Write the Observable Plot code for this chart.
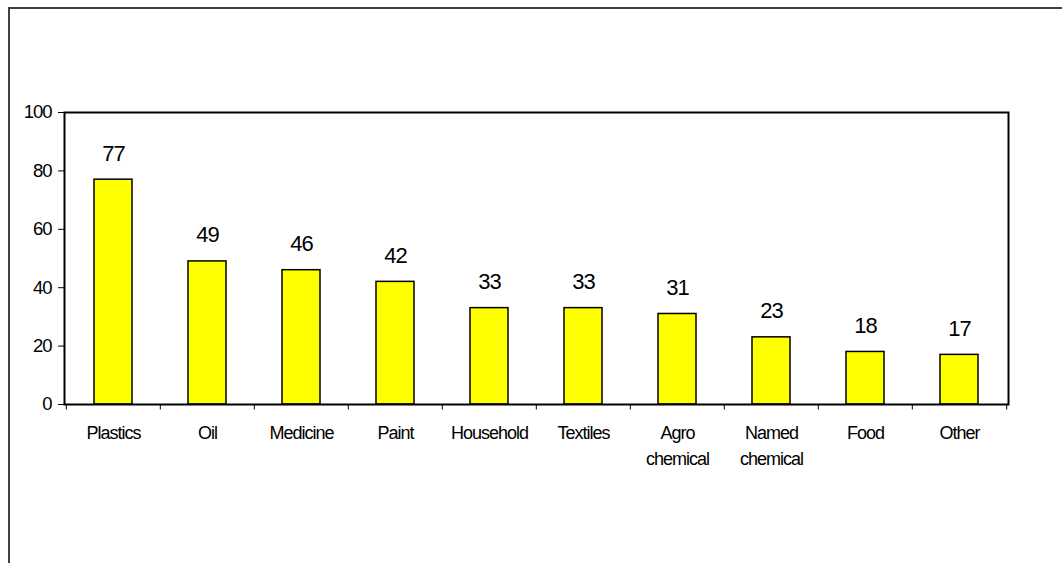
<!DOCTYPE html>
<html><head>
<meta charset="utf-8">
<script src="https://cdn.jsdelivr.net/npm/d3@7"></script>
<script src="https://cdn.jsdelivr.net/npm/@observablehq/plot@0.6"></script>
<style>
body{margin:0;background:#fff;}
#wrap{position:relative;width:1062px;height:563px;overflow:hidden;background:#fff;}
#chart{position:absolute;left:0;top:0;}
#border{position:absolute;left:8px;top:7px;width:1100px;height:600px;border-left:2px solid #404040;border-top:2px solid #404040;pointer-events:none;}
</style></head><body>
<div id="wrap"><div id="chart"></div><div id="border"></div></div>
<script>
const categories = ["Plastics","Oil","Medicine","Paint","Household","Textiles","Agro\nchemical","Named\nchemical","Food","Other"];
const values = [77,49,46,42,33,33,31,23,18,17];
const yTicks = [0,20,40,60,80,100];

const data = categories.map((c,i)=>({category:c, value:values[i]}));
const W=1062, H=563, mL=64, mR=54, mT=112, mB=159;
const step = (W-mL-mR)/categories.length;
const font = "'Liberation Sans', Arial, sans-serif";

const chart = Plot.plot({
  width:W, height:H, marginLeft:mL, marginRight:mR, marginTop:mT, marginBottom:mB,
  style:{background:"transparent", fontFamily:font, color:"#000", overflow:"visible"},
  x:{domain:categories, paddingInner:0.6, paddingOuter:0.3, axis:null},
  y:{domain:[0,100], axis:null},
  marks:[
    Plot.barY(data,{x:"category", y:"value", fill:"#ffff00", stroke:"#000", strokeWidth:1.5}),
    Plot.ruleX(categories,{x:d=>d, dx:-step/2, y1:0, y2:-1.9, stroke:"#000", strokeWidth:1}),
    Plot.ruleX(categories.slice(-1),{x:d=>d, dx:step/2, y1:0, y2:-1.9, stroke:"#000", strokeWidth:1}),
    Plot.axisY(yTicks,{label:null, tickSize:6, tickPadding:7, fontSize:18.5, fill:"#000", stroke:"#000", tickFormat:d=>String(d)}),
    Plot.frame({stroke:"#000", strokeWidth:2}),
    Plot.text(data,{x:"category", y:"value", text:d=>String(d.value), dy:-26, lineAnchor:"middle", fontSize:22, fill:"#000"}),
    Plot.text(categories,{x:d=>d, frameAnchor:"bottom", lineAnchor:"top", dy:17, lineHeight:1.4, fontSize:18, fill:"#000", text:d=>d})
  ]
});
chart.querySelectorAll("text").forEach(t=>{ t.style.letterSpacing = "-1px"; });
document.getElementById("chart").appendChild(chart);
</script>
</body></html>
